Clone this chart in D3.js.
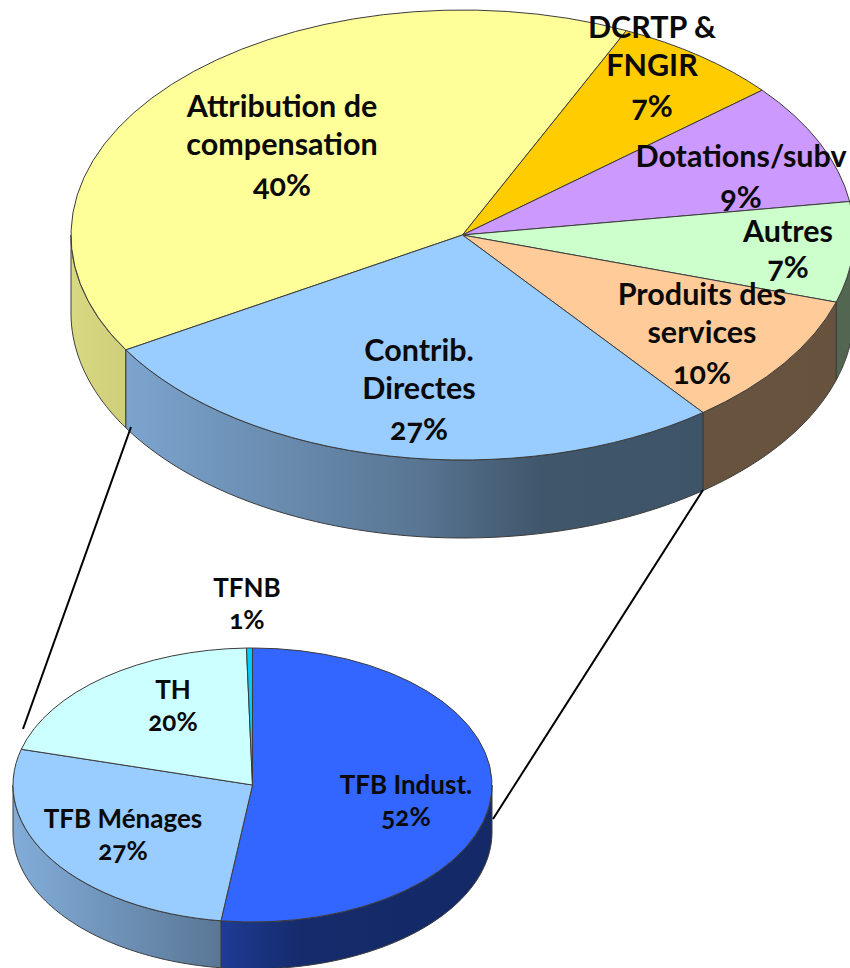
<!DOCTYPE html>
<html><head><meta charset="utf-8">
<script src="https://cdn.jsdelivr.net/npm/d3@7/dist/d3.min.js"></script>
<style>
html,body{margin:0;padding:0;background:#fff;overflow:hidden}
text{font-family:Lato,"Open Sans",sans-serif;font-weight:700;font-feature-settings:"onum" 1,"lnum" 0;fill:#0a0a0a;text-anchor:middle}
</style></head><body>
<svg id="c" width="850" height="968"></svg>
<script>
const mainCategories=[["Attribution de","compensation"],["DCRTP &","FNGIR"],["Dotations/subv"],["Autres"],["Produits des","services"],["Contrib.","Directes"]];
const mainValues=[40.4,7.0,8.75,7.2,9.65,27.0];
const mainPercents=["40%","7%","9%","7%","10%","27%"];
const mainColors=["#FFFF99","#FFCC00","#CC99FF","#CCFFCC","#FFCC99","#99CCFF"];
// --- detail pie data
const subCategories=[["TFB Indust."],["TFB Ménages"],["TH"],["TFNB"]];
const subValues=[52.1,27.1,20.4,0.4];
const subPercents=["52%","27%","20%","1%"];
const subColors=["#3366FF","#99CCFF","#CCFFFF","#00CCFF"];

// --- layout
const mainGeo={cx:462.5,cy:235,rx:391.5,ry:225,depth:78,start:-120.7,size:30.5,lead:[38,41]};
const subGeo={cx:252.5,cy:785,rx:239.5,ry:137,depth:47,start:0,size:26,lead:[32,32]};
const mainLabelAt=[[282,117],[652,38],[741,167],[788,242],[702,305],[419,361]];
const mainPercentShift=[0,0,0,-5,0,0];
const subLabelAt=[[406,794],[123,828],[173,699],[247,597]];
const subPercentShift=[0,0,0,0];
const shade=[[0,.85],[.44,.58],[.6,.42],[1,.4]];

const svg=d3.select("#c"),defs=svg.append("defs");
const rad=d=>d*Math.PI/180;

function drawPie(id,values,colors,g){
  const pie=d3.pie().sort(null).value(d=>d).startAngle(rad(g.start)).endAngle(rad(g.start+360));
  const arcs=pie(values);
  const root=svg.append("g").attr("class",id);
  const px=t=>g.cx+g.rx*Math.sin(t), py=t=>g.cy-g.ry*Math.cos(t);
  const line=d3.line().x(d=>d[0]).y(d=>d[1]);
  // side walls: only the front half of the rim is seen
  arcs.forEach((a,i)=>{
    const segs=[];
    for(const turn of [-2*Math.PI,0]){
      const lo=Math.max(a.startAngle,Math.PI/2+turn), hi=Math.min(a.endAngle,3*Math.PI/2+turn);
      if(hi>lo)segs.push([lo,hi]);
    }
    segs.forEach((s,j)=>{
      const gid=`${id}-w${i}-${j}`;
      const lg=defs.append("linearGradient").attr("id",gid).attr("gradientUnits","userSpaceOnUse")
        .attr("x1",g.cx-g.rx).attr("x2",g.cx+g.rx).attr("y1",0).attr("y2",0);
      const base=d3.rgb(colors[i]);
      shade.forEach(([u,f])=>lg.append("stop").attr("offset",u)
        .attr("stop-color",d3.rgb(base.r*f,base.g*f,base.b*f).formatHex()));
      const ts=d3.range(0,61).map(n=>s[0]+(s[1]-s[0])*n/60);
      const pts=ts.map(t=>[px(t),py(t)]).concat(ts.slice().reverse().map(t=>[px(t),py(t)+g.depth]));
      root.append("path").attr("d",line(pts)+"Z").attr("fill",`url(#${gid})`)
        .attr("stroke","#3c3c3c").attr("stroke-width",1).attr("stroke-linejoin","round");
    });
  });
  // top face
  const arc=d3.arc().innerRadius(0).outerRadius(g.rx);
  const top=root.append("g").attr("transform",`translate(${g.cx},${g.cy}) scale(1,${g.ry/g.rx})`);
  top.selectAll("path").data(arcs).join("path").attr("d",arc)
    .attr("fill",(d,i)=>colors[i]).attr("stroke","#3c3c3c").attr("stroke-width",1)
    .attr("vector-effect","non-scaling-stroke").attr("stroke-linejoin","round");
}
drawPie("main",mainValues,mainColors,mainGeo);
drawPie("sub",subValues,subColors,subGeo);

// connector lines
const connectors=[[[131,427],[23,729]],[[703,490],[493,819]]];
svg.append("g").selectAll("path").data(connectors).join("path")
  .attr("d",d3.line()).attr("stroke","#000").attr("stroke-width",2).attr("fill","none");

function drawLabels(cats,pcts,at,shift,g){
  const t=svg.append("g").attr("font-size",g.size);
  cats.forEach((c,i)=>{
    c.forEach((ln,j)=>t.append("text").attr("x",at[i][0]).attr("y",at[i][1]+j*g.lead[0]).text(ln));
    t.append("text").attr("x",at[i][0]).attr("y",at[i][1]+(c.length-1)*g.lead[0]+g.lead[1]+shift[i]).text(pcts[i]);
  });
}
drawLabels(mainCategories,mainPercents,mainLabelAt,mainPercentShift,mainGeo);
drawLabels(subCategories,subPercents,subLabelAt,subPercentShift,subGeo);
</script></body></html>
